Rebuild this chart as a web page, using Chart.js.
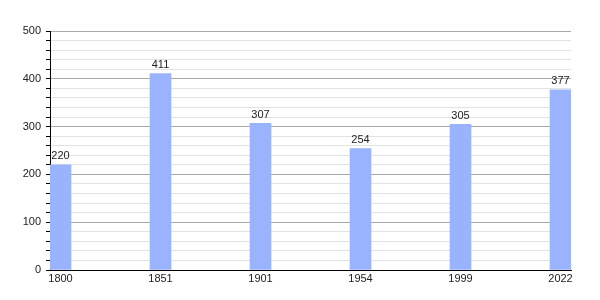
<!DOCTYPE html>
<html lang="en">
<head>
    <meta charset="UTF-8">
    <title>Population</title>
    <script src="https://cdn.jsdelivr.net/npm/chart.js"></script>
    <style>
        html, body { margin: 0; padding: 0; background: #fff; }
        #wrap { width: 600px; height: 300px; }
    </style>
</head>
<body>
    <div id="wrap">
        <canvas id="myChart"></canvas>
    </div>

    <script>
        const years = ['1800', '1851', '1901', '1954', '1999', '2022'];
        const population = [220, 411, 307, 254, 305, 377];
        const yTicks = [0, 100, 200, 300, 400, 500];

        // draws the value above each bar
        const valueLabels = {
            id: 'valueLabels',
            afterDatasetsDraw(chart) {
                const ctx = chart.ctx;
                const meta = chart.getDatasetMeta(0);
                ctx.save();
                ctx.font = '11px "Liberation Sans", Arial, sans-serif';
                ctx.fillStyle = '#222';
                ctx.textAlign = 'center';
                ctx.textBaseline = 'bottom';
                meta.data.forEach((bar, i) => {
                    ctx.fillText(population[i], bar.x, bar.y - 3);
                });
                ctx.restore();
            }
        };

        Chart.defaults.font.family = '"Liberation Sans", Arial, sans-serif';
        Chart.defaults.font.size = 11;
        Chart.defaults.color = '#222';

        const ctx = document.getElementById('myChart').getContext('2d');
        new Chart(ctx, {
            type: 'bar',
            data: {
                datasets: [{
                    data: population.map((v, i) => ({ x: i, y: v })),
                    backgroundColor: '#99b3ff',
                    borderWidth: 0,
                    barThickness: 21
                }]
            },
            plugins: [valueLabels],
            options: {
                responsive: true,
                maintainAspectRatio: false,
                animation: false,
                layout: { padding: { top: 31, right: 29, left: 0, bottom: 0 } },
                plugins: {
                    legend: { display: false },
                    tooltip: { enabled: false }
                },
                scales: {
                    x: {
                        type: 'linear',
                        offset: false,
                        min: -0.105,
                        max: 5.105,
                        grid: { display: false, drawTicks: false, tickLength: 0 },
                        border: { color: '#000', width: 1 },
                        afterBuildTicks: s => { s.ticks = years.map((y, i) => ({ value: i })); },
                        afterFit: s => { s.height = 30; },
                        ticks: {
                            autoSkip: false,
                            maxRotation: 0,
                            padding: 2,
                            callback: v => years[v]
                        }
                    },
                    y: {
                        min: 0,
                        max: 500,
                        grid: {
                            color: c => (c.tick && c.tick.value % 100 === 0) ? '#a8a8a8' : '#e2e2e2',
                            tickColor: '#000',
                            tickLength: 4
                        },
                        border: { color: '#000', width: 1 },
                        afterFit: s => { s.width = 50; },
                        ticks: {
                            stepSize: 20,
                            autoSkip: false,
                            padding: 5,
                            callback: v => yTicks.includes(v) ? v : ''
                        }
                    }
                }
            }
        });
    </script>
</body>
</html>
